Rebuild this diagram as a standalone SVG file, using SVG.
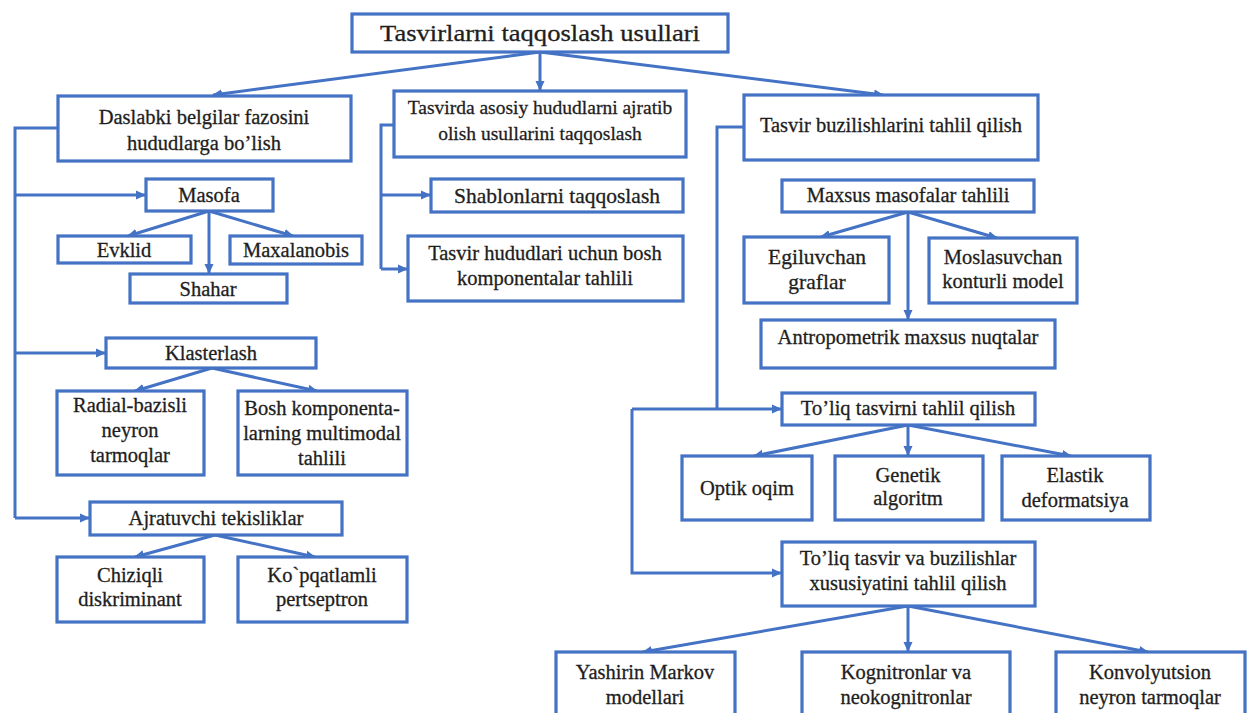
<svg xmlns="http://www.w3.org/2000/svg" width="1252" height="713" viewBox="0 0 1252 713">
<defs>
<marker id="ah" markerWidth="10" markerHeight="10" refX="9" refY="5" orient="auto" markerUnits="userSpaceOnUse">
<path d="M0,0.5 L10,5 L0,9.5 Z" fill="#4472C4"/>
</marker>
<style>
.box{fill:#fff;stroke:#4472C4;stroke-width:3.2}
.c{fill:none;stroke:#4472C4;stroke-width:3}
.a{fill:none;stroke:#4472C4;stroke-width:3;marker-end:url(#ah)}
text{font-family:"Liberation Serif","Times New Roman",serif;font-size:20.5px;fill:#1e1e1e;stroke:#1e1e1e;stroke-width:0.3;text-anchor:middle}
.t{font-size:24px}
.l{font-size:21.5px}
.s{font-size:19.5px}
</style>
</defs>
<rect width="1252" height="713" fill="#fff"/>
<g id="connectors">
<path class="a" d="M540,52 L213,95"/>
<path class="a" d="M540,52 L540,90"/>
<path class="a" d="M540,52 L883,95"/>
<path class="c" d="M58,128 L15,128 L15,518"/>
<path class="a" d="M15,195 L145,195"/>
<path class="a" d="M15,353 L105,353"/>
<path class="a" d="M15,518 L89,518"/>
<path class="a" d="M209,211 L128,236"/>
<path class="a" d="M209,211 L209,273"/>
<path class="a" d="M209,211 L293,236"/>
<path class="a" d="M212,368 L135,391"/>
<path class="a" d="M212,368 L317,391"/>
<path class="a" d="M215,535 L135,557"/>
<path class="a" d="M215,535 L315,557"/>
<path class="c" d="M394,125 L381,125 L381,269"/>
<path class="a" d="M381,195 L430,195"/>
<path class="a" d="M381,269 L407,269"/>
<path class="c" d="M744,127 L717,127 L717,409"/>
<path class="a" d="M632,409 L781,409"/>
<path class="a" d="M632,409 L632,573 L781,573"/>
<path class="a" d="M908,212 L821,237"/>
<path class="a" d="M908,212 L908,319"/>
<path class="a" d="M908,212 L997,238"/>
<path class="a" d="M908,425 L754,456"/>
<path class="a" d="M908,425 L908,455"/>
<path class="a" d="M908,425 L1071,456"/>
<path class="a" d="M908,606 L643,652"/>
<path class="a" d="M908,606 L908,651"/>
<path class="a" d="M908,606 L1148,652"/>
</g>
<g id="root"><rect class="box" x="352" y="14" width="376" height="38"/><text class="t" x="540" y="41" textLength="320" lengthAdjust="spacingAndGlyphs">Tasvirlarni taqqoslash usullari</text></g>
<g id="daslabki"><rect class="box" x="58" y="96" width="293" height="65"/><text x="204" y="124">Daslabki belgilar fazosini</text><text x="204" y="150">hududlarga bo’lish</text></g>
<g id="tasvirda"><rect class="box" x="394" y="91" width="292" height="66"/><text class="s" x="540" y="114">Tasvirda asosiy hududlarni ajratib</text><text class="s" x="540" y="140">olish usullarini taqqoslash</text></g>
<g id="buzilish"><rect class="box" x="744" y="95" width="294" height="65"/><text x="891" y="132">Tasvir buzilishlarini tahlil qilish</text></g>
<g id="masofa"><rect class="box" x="146" y="179" width="127" height="32"/><text x="209" y="202">Masofa</text></g>
<g id="shablon"><rect class="box" x="431" y="179" width="252" height="33"/><text class="l" x="557" y="203">Shablonlarni taqqoslash</text></g>
<g id="maxsus"><rect class="box" x="782" y="180" width="252" height="32"/><text x="908" y="202">Maxsus masofalar tahlili</text></g>
<g id="evklid"><rect class="box" x="58" y="236" width="133" height="27"/><text x="124" y="257">Evklid</text></g>
<g id="maxalanobis"><rect class="box" x="230" y="236" width="132" height="28"/><text x="296" y="257">Maxalanobis</text></g>
<g id="shahar"><rect class="box" x="130" y="274" width="157" height="29"/><text x="208" y="296">Shahar</text></g>
<g id="hududlari"><rect class="box" x="408" y="236" width="275" height="65"/><text x="545" y="260">Tasvir hududlari uchun bosh</text><text x="545" y="285">komponentalar tahlili</text></g>
<g id="egiluvchan"><rect class="box" x="744" y="237" width="145" height="66"/><text class="l" x="817" y="264">Egiluvchan</text><text class="l" x="817" y="289">graflar</text></g>
<g id="moslasuvchan"><rect class="box" x="929" y="238" width="148" height="65"/><text x="1003" y="264">Moslasuvchan</text><text x="1003" y="288">konturli model</text></g>
<g id="antropometrik"><rect class="box" x="761" y="320" width="294" height="48"/><text x="908" y="344">Antropometrik maxsus nuqtalar</text></g>
<g id="klasterlash"><rect class="box" x="106" y="338" width="210" height="30"/><text x="211" y="360">Klasterlash</text></g>
<g id="radial"><rect class="box" x="57" y="391" width="147" height="84"/><text x="130" y="412">Radial-bazisli</text><text x="130" y="437">neyron</text><text x="130" y="462">tarmoqlar</text></g>
<g id="bosh"><rect class="box" x="238" y="391" width="169" height="84"/><text x="322" y="415">Bosh komponenta-</text><text x="322" y="440">larning multimodal</text><text x="322" y="465">tahlili</text></g>
<g id="toliq1"><rect class="box" x="782" y="393" width="253" height="32"/><text x="908" y="415">To’liq tasvirni tahlil qilish</text></g>
<g id="optik"><rect class="box" x="682" y="456" width="130" height="64"/><text x="747" y="495">Optik oqim</text></g>
<g id="genetik"><rect class="box" x="835" y="456" width="148" height="64"/><text x="908" y="482">Genetik</text><text x="908" y="505">algoritm</text></g>
<g id="elastik"><rect class="box" x="1002" y="456" width="148" height="64"/><text x="1075" y="482">Elastik</text><text x="1075" y="507">deformatsiya</text></g>
<g id="ajratuvchi"><rect class="box" x="90" y="502" width="252" height="33"/><text x="216" y="525">Ajratuvchi tekisliklar</text></g>
<g id="chiziqli"><rect class="box" x="57" y="557" width="147" height="65"/><text x="130" y="582">Chiziqli</text><text x="130" y="606">diskriminant</text></g>
<g id="kopqatlamli"><rect class="box" x="238" y="557" width="169" height="65"/><text x="322" y="582">Ko`pqatlamli</text><text x="322" y="606">pertseptron</text></g>
<g id="toliq2"><rect class="box" x="782" y="542" width="253" height="64"/><text x="908" y="565">To’liq tasvir va buzilishlar</text><text x="908" y="590">xususiyatini tahlil qilish</text></g>
<g id="yashirin"><rect class="box" x="556" y="652" width="179" height="80"/><text x="645" y="679">Yashirin Markov</text><text x="645" y="704">modellari</text></g>
<g id="kognitron"><rect class="box" x="802" y="652" width="208" height="80"/><text x="906" y="679">Kognitronlar va</text><text x="906" y="704">neokognitronlar</text></g>
<g id="konvolyutsion"><rect class="box" x="1056" y="652" width="189" height="80"/><text x="1150" y="679">Konvolyutsion</text><text x="1150" y="704">neyron tarmoqlar</text></g>
</svg>
